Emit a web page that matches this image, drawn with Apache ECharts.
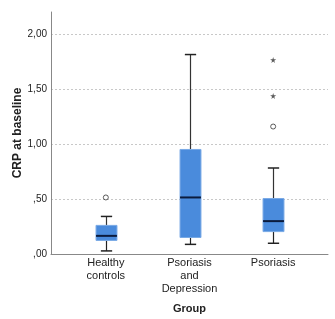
<!DOCTYPE html>
<html><head><meta charset="utf-8">
<script src="https://cdn.jsdelivr.net/npm/echarts@6/dist/echarts.min.js"></script>
<style>html,body{margin:0;padding:0;background:#fff}#c{width:335px;height:319px}</style>
</head><body><div id="c"></div>
<script>
var categories = ['Healthy\ncontrols', 'Psoriasis\nand\nDepression', 'Psoriasis'];
var whiskerLow = [0.01, 0.07, 0.08];
var q1 = [0.106, 0.133, 0.187];
var median = [0.148, 0.50, 0.283];
var q3 = [0.244, 0.94, 0.49];
var whiskerHigh = [0.326, 1.81, 0.77];
var outlierCircleCat = [0, 2];
var outlierCircleVal = [0.50, 1.15];
var outlierStarCat = [2, 2];
var outlierStarVal = [1.43, 1.76];

var boxData = categories.map(function (c, i) {
  return [i, whiskerLow[i], q1[i], median[i], q3[i], whiskerHigh[i]];
});
var chart = echarts.init(document.getElementById('c'));
var font = 'Arial, "Liberation Sans", sans-serif';
var starPath = 'path://M50,0 L61,35 L98,35 L68,57 L79,91 L50,70 L21,91 L32,57 L2,35 L39,35 Z';
chart.setOption({
  animation: false,
  grid: [
    {left: 51, right: 7, top: 12, bottom: 65},
    {left: 64, right: 20, top: 12, bottom: 65}
  ],
  xAxis: [
    {gridIndex: 0, type: 'value', min: 0, max: 1, axisLabel: {show: false}, axisTick: {show: false}, splitLine: {show: false},
     axisLine: {show: true, lineStyle: {color: '#888', width: 1}}},
    {gridIndex: 1, type: 'category', data: categories, axisLine: {show: false}, axisTick: {show: false},
     axisLabel: {margin: 4, fontSize: 11, lineHeight: 13, color: '#222', fontFamily: font},
     name: 'Group', nameLocation: 'middle', nameGap: 51, nameMoveOverlap: false,
     nameTextStyle: {fontSize: 11, fontWeight: 'bold', color: '#222', fontFamily: font}}
  ],
  yAxis: [
    {gridIndex: 0, type: 'value', min: 0, max: 2.2, interval: 0.5,
     axisLine: {show: true, lineStyle: {color: '#888'}}, axisTick: {show: false},
     axisLabel: {showMaxLabel: false, margin: 4, fontSize: 10, color: '#222', fontFamily: font,
       formatter: function (v) { if (v > 2.01) return ''; var s = v.toFixed(2).replace('.', ','); return s.replace(/^0,/, ','); }},
     splitLine: {show: true, showMaxLine: false, showMinLine: false, lineStyle: {color: '#c8c8c8', type: [2, 2], width: 1}},
     name: 'CRP at baseline', nameLocation: 'middle', nameGap: 27, nameMoveOverlap: false,
     nameTextStyle: {fontSize: 12, fontWeight: 'bold', color: '#222', fontFamily: font}},
    {gridIndex: 1, type: 'value', min: 0, max: 2.2, show: false}
  ],
  series: [
    {type: 'custom', xAxisIndex: 1, yAxisIndex: 1, data: boxData,
     renderItem: function (params, api) {
       var x = api.value(0);
       var pLow = api.coord([x, api.value(1)]);
       var pQ1 = api.coord([x, api.value(2)]);
       var pMed = api.coord([x, api.value(3)]);
       var pQ3 = api.coord([x, api.value(4)]);
       var pHigh = api.coord([x, api.value(5)]);
       var band = api.size([1, 0])[0];
       var bw = band * 0.25, cw = band * 0.135;
       var cx = Math.round(pMed[0]) + 0.5;
       return {type: 'group', children: [
         {type: 'line', shape: {x1: cx, y1: pLow[1], x2: cx, y2: pQ1[1]}, style: {stroke: '#222', lineWidth: 1.2}},
         {type: 'line', shape: {x1: cx, y1: pQ3[1], x2: cx, y2: pHigh[1]}, style: {stroke: '#333', lineWidth: 1.2}},
         {type: 'line', shape: {x1: cx - cw / 2, y1: pLow[1], x2: cx + cw / 2, y2: pLow[1]}, style: {stroke: '#222', lineWidth: 1.5}},
         {type: 'line', shape: {x1: cx - cw / 2, y1: pHigh[1], x2: cx + cw / 2, y2: pHigh[1]}, style: {stroke: '#222', lineWidth: 1.5}},
         {type: 'rect', shape: {x: cx - bw / 2, y: pQ3[1], width: bw, height: pQ1[1] - pQ3[1]}, style: {fill: '#4a8bdc', stroke: '#7aaae6', lineWidth: 1}},
         {type: 'line', shape: {x1: cx - bw / 2, y1: pMed[1], x2: cx + bw / 2, y2: pMed[1]}, style: {stroke: '#0b1b3c', lineWidth: 2}}
       ]};
     }},
    {type: 'scatter', xAxisIndex: 1, yAxisIndex: 1, symbol: 'circle', symbolSize: 5,
     itemStyle: {color: '#fff', borderColor: '#333', borderWidth: 1},
     data: outlierCircleCat.map(function (c, i) { return [c, outlierCircleVal[i]]; })},
    {type: 'scatter', xAxisIndex: 1, yAxisIndex: 1, symbol: starPath, symbolSize: 6,
     itemStyle: {color: '#333'},
     data: outlierStarCat.map(function (c, i) { return [c, outlierStarVal[i]]; })}
  ]
});
</script></body></html>
